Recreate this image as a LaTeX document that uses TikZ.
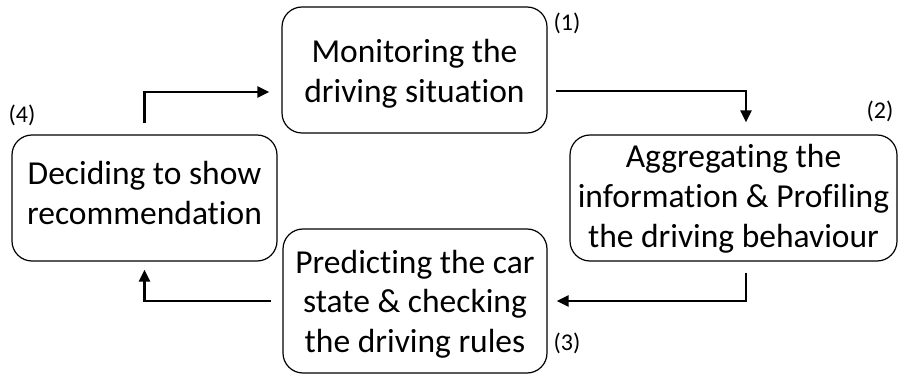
\documentclass[tikz,border=0pt]{standalone}
\usepackage{fontspec}
\setmainfont{Carlito}[Ligatures=NoCommon]
\usepackage{tikz}
\usetikzlibrary{arrows.meta}

\tikzset{
    stage/.style={draw, line width=1.2pt, rounded corners=20pt, inner sep=0pt, align=center,
        font=\fontsize{33.5}{40}\selectfont, text depth=8pt},
    flow/.style={line width=2.4pt, -{Triangle[length=12pt,width=11pt]}},
    tag/.style={font=\fontsize{24}{28}\selectfont, inner sep=0pt}
}

\begin{document}
\begin{tikzpicture}[x=1pt, y=-1pt]
            \useasboundingbox (0, 0) rectangle (898, 374);
            \node[stage, minimum width=265pt, minimum height=126pt, text height=74pt] (mon) at (414.5, 70) {Monitoring the\\driving situation};
            \node[stage, minimum width=327pt, minimum height=126pt, text height=108pt] (agg) at (733.5, 198) {Aggregating the\\information \& Profiling\\the driving behaviour};
            \node[stage, minimum width=264pt, minimum height=144pt, text height=112pt] (pred) at (415, 301) {Predicting the car\\state \& checking\\the driving rules};
            \node[stage, minimum width=265pt, minimum height=126pt, text height=62pt] (dec) at (144.5, 198) {Deciding to show\\recommendation};
            \node[tag] (n1) at (567, 23) {(1)};
            \node[tag] (n2) at (880, 111) {(2)};
            \node[tag] (n3) at (567, 343) {(3)};
            \node[tag] (n4) at (22, 115) {(4)};
            \draw[flow] ([shift={(8,21)}]mon.east) -| ([shift={(12.5,-12)}]agg.north);
            \draw[flow] ([shift={(12.5,11)}]agg.south) |- ([xshift=9pt]pred.east);
            \draw[flow] ([xshift=-11pt]pred.west) -| ([shift={(0,8)}]dec.south);
            \draw[flow] ([shift={(0,-11)}]dec.north) |- ([shift={(-12,22)}]mon.west);
        \end{tikzpicture}
\end{document}
